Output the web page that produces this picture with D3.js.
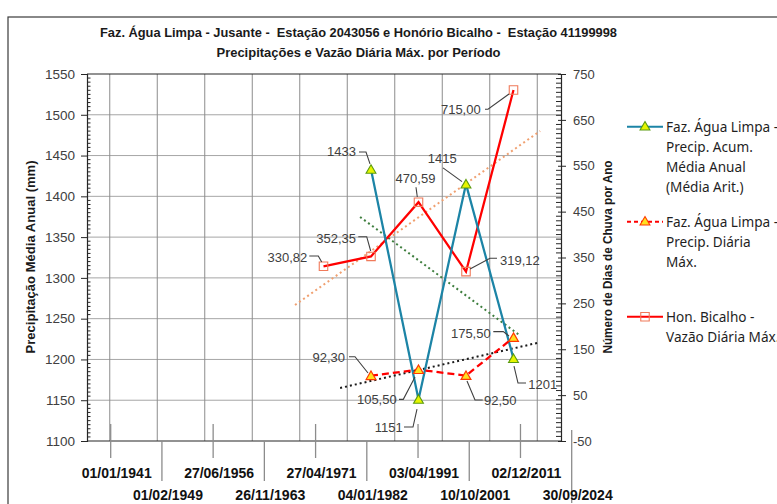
<!DOCTYPE html>
<html>
<head>
<meta charset="utf-8">
<script src="https://cdn.jsdelivr.net/npm/d3@7/dist/d3.min.js"></script>
<style>
  html, body { margin: 0; padding: 0; background: #fff; }
  svg { display: block; font-family: "Liberation Sans", Arial, sans-serif; }
</style>
</head>
<body>
<svg id="chart" width="777" height="504"></svg>
<script>
// ---------------- DATA ----------------
const titleLines = [
  "Faz. Água Limpa - Jusante -  Estação 2043056 e Honório Bicalho -  Estação 41199998",
  "Precipitações e Vazão Diária Máx. por Período"
];
const categories = [0, 1, 2, 3, 4, 5, 6, 7, 8, 9, 10];
const precipAcum   = [null, null, null, null, null, null, 1433, 1151, 1415, 1201, null];
const precipDiaria = [null, null, null, null, null, null, 92.30, 105.50, 92.50, 175.50, null];
const vazaoMax     = [null, null, null, null, null, 330.82, 352.35, 470.59, 319.12, 715.00, null];
const dateLabels = ["01/01/1941", "01/02/1949", "27/06/1956", "26/11/1963", "27/04/1971",
                    "04/01/1982", "03/04/1991", "10/10/2001", "02/12/2011", "30/09/2024"];
const leftTicks  = [1100, 1150, 1200, 1250, 1300, 1350, 1400, 1450, 1500, 1550];
const rightTicks = [-50, 50, 150, 250, 350, 450, 550, 650, 750];
const legendLabels = [
  ["Faz. Água Limpa -", "Precip. Acum.", "Média Anual", "(Média Arit.)"],
  ["Faz. Água Limpa -", "Precip. Diária", "Máx."],
  ["Hon. Bicalho -", "Vazão Diária Máx."]
];
const leftTitle = "Precipitação Média Anual (mm)";
const rightTitle = "Número de Dias de Chuva por Ano";

// ---------------- LAYOUT ----------------
const svg = d3.select("#chart");
const L = 87, R = 561, T = 74, B = 441;

const x = d3.scaleLinear().domain([0, 10]).range([86, 561]);
const yL = d3.scaleLinear().domain([1100, 1550]).range([B, T]);
const yR = d3.scaleLinear().domain([-50, 750]).range([B, T]);
const xDate = d3.scalePoint().domain(dateLabels).range([110.7, 571.7]);
const plain = d => String(d);

// outer frame
svg.append("rect").attr("x", 8).attr("y", 17).attr("width", 800).attr("height", 520)
  .attr("fill", "none").attr("stroke", "#3a3a3a").attr("stroke-width", 1.2);

// title
titleLines.forEach((t, i) => {
  svg.append("text").attr("x", 358.5).attr("y", 37 + i * 20)
    .attr("text-anchor", "middle").attr("font-size", 13).attr("font-weight", "bold")
    .attr("fill", "#1a1a1a").style("white-space", "pre")
    .attr("textLength", i === 0 ? 517 : 284).attr("lengthAdjust", "spacingAndGlyphs")
    .text(t);
});

// horizontal gridlines
svg.append("g").selectAll("line").data(leftTicks.filter(v => v > 1100 && v < 1550)).join("line")
  .attr("x1", L).attr("x2", R).attr("y1", d => yL(d)).attr("y2", d => yL(d))
  .attr("stroke", "#a6a6a6").attr("stroke-width", 1);

// vertical gridlines (category boundaries)
svg.append("g").selectAll("line").data(d3.range(0, 10)).join("line")
  .attr("x1", d => x(d + 0.5)).attr("x2", d => x(d + 0.5)).attr("y1", T).attr("y2", B)
  .attr("stroke", "#8c8c8c").attr("stroke-width", 1);

// plot frame: top line
svg.append("line").attr("x1", L).attr("x2", R).attr("y1", T).attr("y2", T)
  .attr("stroke", "#262626").attr("stroke-width", 1.2);

// left axis
const gL = svg.append("g").attr("transform", `translate(${L},0)`)
  .call(d3.axisLeft(yL).tickValues(leftTicks).tickFormat(plain).tickSize(6).tickPadding(6));
gL.select(".domain").attr("stroke", "#262626").attr("stroke-width", 1.2);
gL.selectAll(".tick line").attr("stroke", "#262626");
gL.selectAll(".tick text").attr("font-size", 13.5).attr("fill", "#404040")
  .attr("font-family", "Liberation Sans, Arial, sans-serif");
// left minor ticks (inside)
svg.append("g").selectAll("line").data(d3.range(1105, 1550, 5).filter(v => v % 50 !== 0)).join("line")
  .attr("x1", L).attr("x2", L + 3.5).attr("y1", d => yL(d)).attr("y2", d => yL(d))
  .attr("stroke", "#262626").attr("stroke-width", 1);

// right axis
const gR = svg.append("g").attr("transform", `translate(${R},0)`)
  .call(d3.axisRight(yR).tickValues(rightTicks).tickFormat(plain).tickSize(5).tickPadding(7));
gR.select(".domain").attr("stroke", "#262626").attr("stroke-width", 1.2);
gR.selectAll(".tick line").attr("stroke", "#262626").attr("x1", -3);
gR.selectAll(".tick text").attr("font-size", 13).attr("fill", "#404040")
  .attr("font-family", "Liberation Sans, Arial, sans-serif");
svg.append("g").selectAll("line").data(d3.range(-40, 750, 10).filter(v => (v + 50) % 100 !== 0)).join("line")
  .attr("x1", R - 5).attr("x2", R).attr("y1", d => yR(d)).attr("y2", d => yR(d))
  .attr("stroke", "#262626").attr("stroke-width", 1);

// bottom axis line
svg.append("line").attr("x1", L).attr("x2", R).attr("y1", B).attr("y2", B)
  .attr("stroke", "#262626").attr("stroke-width", 1.2);

// axis titles
svg.append("text").attr("transform", `translate(35,257) rotate(-90)`)
  .attr("text-anchor", "middle").attr("font-size", 12).attr("font-weight", "bold").attr("fill", "#1a1a1a")
  .attr("textLength", 193).attr("lengthAdjust", "spacingAndGlyphs").text(leftTitle);
svg.append("text").attr("transform", `translate(612,257) rotate(-90)`)
  .attr("text-anchor", "middle").attr("font-size", 12).attr("font-weight", "bold").attr("fill", "#1a1a1a")
  .attr("textLength", 193).attr("lengthAdjust", "spacingAndGlyphs").text(rightTitle);

// date labels with leader lines
const dateG = svg.append("g");
dateLabels.forEach((d, i) => {
  const xx = xDate(d);
  const upper = i % 2 === 0;
  const last = i === dateLabels.length - 1;
  const y1 = upper ? 424 : (last ? 430 : 441);
  const y2 = upper ? 458 : (last ? 503 : 481);
  dateG.append("line").attr("x1", xx).attr("x2", xx).attr("y1", y1).attr("y2", y2)
    .attr("stroke", "#8c8c8c").attr("stroke-width", 1.3);
  dateG.append("text").attr("x", xx + 6).attr("y", upper ? 478 : 500)
    .attr("text-anchor", "middle").attr("font-size", 14).attr("font-weight", "bold").attr("fill", "#111")
    .attr("textLength", 70).attr("lengthAdjust", "spacingAndGlyphs").text(d);
});

// ---------------- TRENDLINES ----------------
function regression(values) {
  const pts = categories.map((c, i) => [c, values[i]]).filter(p => p[1] != null);
  const mx = d3.mean(pts, p => p[0]), my = d3.mean(pts, p => p[1]);
  const slope = d3.sum(pts, p => (p[0] - mx) * (p[1] - my)) / d3.sum(pts, p => (p[0] - mx) ** 2);
  return c => my + slope * (c - mx);
}
const trends = [
  { values: vazaoMax, y: yR, from: 4.4, to: 9.56, color: "#f0a070" },
  { values: precipAcum, y: yL, from: 5.77, to: 9.14, color: "#3f7f3f" },
  { values: precipDiaria, y: yR, from: 5.35, to: 9.54, color: "#1a1a1a" }
];
trends.forEach(t => {
  const f = regression(t.values);
  svg.append("line")
    .attr("x1", x(t.from)).attr("y1", t.y(f(t.from)))
    .attr("x2", x(t.to)).attr("y2", t.y(f(t.to)))
    .attr("stroke", t.color).attr("stroke-width", 2).attr("stroke-dasharray", "2,3");
});

// ---------------- SERIES ----------------
function seriesPts(values, y) {
  return categories.map((c, i) => ({ c, v: values[i], px: x(c), py: values[i] == null ? null : y(values[i]) }))
    .filter(d => d.v != null);
}
const sAcum = seriesPts(precipAcum, yL);
const sDiaria = seriesPts(precipDiaria, yR);
const sVazao = seriesPts(vazaoMax, yR);
const line = d3.line().x(d => d.px).y(d => d.py);

svg.append("path").datum(sVazao).attr("d", line).attr("fill", "none")
  .attr("stroke", "#ff0000").attr("stroke-width", 2.25);
svg.append("path").datum(sAcum).attr("d", line).attr("fill", "none")
  .attr("stroke", "#1c84a6").attr("stroke-width", 2.25);
svg.append("path").datum(sDiaria).attr("d", line).attr("fill", "none")
  .attr("stroke", "#ff0000").attr("stroke-width", 2.25).attr("stroke-dasharray", "7,4");

const tri = d3.symbol().type(d3.symbolTriangle).size(42);
const sq = d3.symbol().type(d3.symbolSquare).size(72);

svg.append("g").selectAll("path").data(sVazao).join("path")
  .attr("d", sq).attr("transform", d => `translate(${d.px},${d.py})`)
  .attr("fill", "none").attr("stroke", "#f07a5a").attr("stroke-width", 1.1);
svg.append("g").selectAll("path").data(sAcum).join("path")
  .attr("d", tri).attr("transform", d => `translate(${d.px},${d.py + 1})`)
  .attr("fill", "#e6f500").attr("stroke", "#5a9a10").attr("stroke-width", 1.1);
svg.append("g").selectAll("path").data(sDiaria).join("path")
  .attr("d", tri).attr("transform", d => `translate(${d.px},${d.py + 1})`)
  .attr("fill", "#ffe020").attr("stroke", "#ff3a00").attr("stroke-width", 1.2);

// ---------------- DATA LABELS ----------------
const fmtInt = d => String(d);
const fmtDec = d => d.toFixed(2).replace(".", ",");
// [dx, dy, anchor, leader points relative to the point]
const labelLayout = {
  acum: [
    [-15, -18, "end", [[-12, -17.4], [-5, -17.4], [-1, -5.5]]],
    [-15.8, 28, "end", [[-14.5, 27.6], [-5.5, 27.6], [-1.5, 9.6]]],
    [-9.3, -25.5, "end", [[-23, -16.2], [-4, -2.5]]],
    [14.8, 25.4, "start", [[12.5, 24.4], [4.5, 24.4], [0.5, 7.4]]]
  ],
  diaria: [
    [-26, -18.7, "end", [[-22, -19], [-16, -19], [-3, -2.7]]],
    [-21.8, 29.9, "end", [[-19.5, 29.7], [-15.2, 29.7], [-3.5, 7.4]]],
    [18, 24.4, "start", [[16.7, 24.4], [9, 24.4], [1, 5.4]]],
    [-22.8, -4.3, "end", [[-20.2, -5.9], [-10.2, -5.9], [-4.5, -1.6]]]
  ],
  vazao: [
    [-16.2, -9.3, "end", [[-14.2, -10.3], [-5.2, -10.3], [-1.8, -4.3]]],
    [-15, -18.4, "end", [[-12.7, -19.7], [-4.3, -19.7], [-0.3, -5.4]]],
    [-3, -23.5, "middle", [[-2.5, -14.9], [-1.2, -5.2]]],
    [34, -11.7, "start", [[31, -13.4], [24, -13.4], [4, -2.7]]],
    [-32.8, 19.4, "end", [[-28.5, 19.2], [-25.5, 19.2], [-4.5, 3.9]]]
  ]
};
const labG = svg.append("g");
function drawLabels(pts, layout, fmt) {
  pts.forEach((p, i) => {
    const [dx, dy, anchor, leader] = layout[i];
    labG.append("path")
      .attr("d", d3.line()(leader.map(q => [p.px + q[0], p.py + q[1]])))
      .attr("fill", "none").attr("stroke", "#404040").attr("stroke-width", 1.1);
    labG.append("text").attr("x", p.px + dx).attr("y", p.py + dy + 4.6)
      .attr("text-anchor", anchor).attr("font-size", 13).attr("fill", "#404040")
      .text(fmt(p.v));
  });
}
drawLabels(sAcum, labelLayout.acum, fmtInt);
drawLabels(sDiaria, labelLayout.diaria, fmtDec);
drawLabels(sVazao, labelLayout.vazao, fmtDec);

// ---------------- LEGEND ----------------
const legG = svg.append("g");
const legY = [126.7, 221.7, 316.7];
const legStyles = [
  { stroke: "#1c84a6", dash: null, marker: "tri", fill: "#e6f500", mstroke: "#5a9a10" },
  { stroke: "#ff0000", dash: "4,3", marker: "tri", fill: "#ffe020", mstroke: "#ff3a00" },
  { stroke: "#ff0000", dash: null, marker: "sq", fill: "none", mstroke: "#f07a5a" }
];
legendLabels.forEach((lines, i) => {
  const y0 = legY[i], s = legStyles[i];
  legG.append("line").attr("x1", 627).attr("x2", 663).attr("y1", y0).attr("y2", y0)
    .attr("stroke", s.stroke).attr("stroke-width", 2).attr("stroke-dasharray", s.dash);
  legG.append("path").attr("d", s.marker === "tri" ? tri : sq)
    .attr("transform", `translate(645,${y0 + (s.marker === "tri" ? 0.5 : 0)})`)
    .attr("fill", s.fill).attr("stroke", s.mstroke).attr("stroke-width", 1.1);
  lines.forEach((t, j) => {
    legG.append("text").attr("x", 666).attr("y", y0 + j * 20 + 5)
      .attr("font-family", "Noto Sans, Open Sans, sans-serif")
      .attr("font-size", 13.6).attr("fill", "#1f1f1f").text(t);
  });
});
</script>
</body>
</html>
